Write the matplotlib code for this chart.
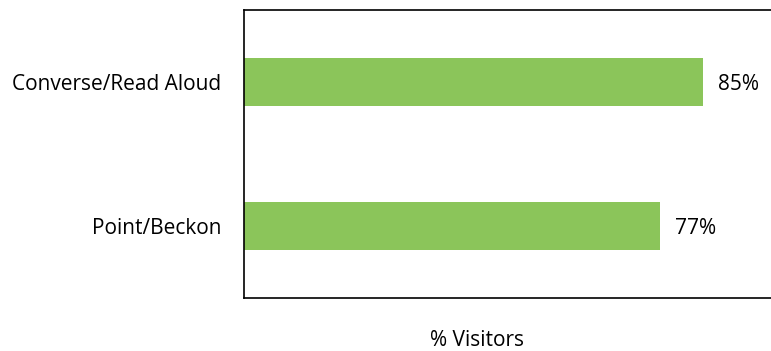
import matplotlib.pyplot as plt

# chart data
categories = ['Point/Beckon', 'Converse/Read Aloud']
values = [77, 85]
labels = ['77%', '85%']

plt.rcParams['font.family'] = ['Open Sans', 'DejaVu Sans']

fig = plt.figure(figsize=(7.71, 3.51), dpi=100)
ax = fig.add_axes([244 / 771, 1 - 298 / 351, 540 / 771, 288 / 351])

ypos = range(len(categories))
ax.barh(ypos, values, height=0.33, color='#8BC55A')
for y, v, lab in zip(ypos, values, labels):
    ax.text(v + 2.8, y - 0.02, lab, va='center', ha='left', fontsize=15)

ax.set_xlim(0, 100)
ax.set_ylim(-0.5, 1.5)
ax.set_yticks(list(ypos))
ax.set_yticklabels(categories, fontsize=15)
ax.tick_params(axis='y', length=0, pad=16.5)
ax.set_xticks([])
for s in ax.spines.values():
    s.set_color('black')
    s.set_linewidth(1.2)

fig.text(477 / 771, 1 - 341 / 351, '% Visitors', ha='center', va='center', fontsize=15)

fig.savefig('out.png', dpi=100)
